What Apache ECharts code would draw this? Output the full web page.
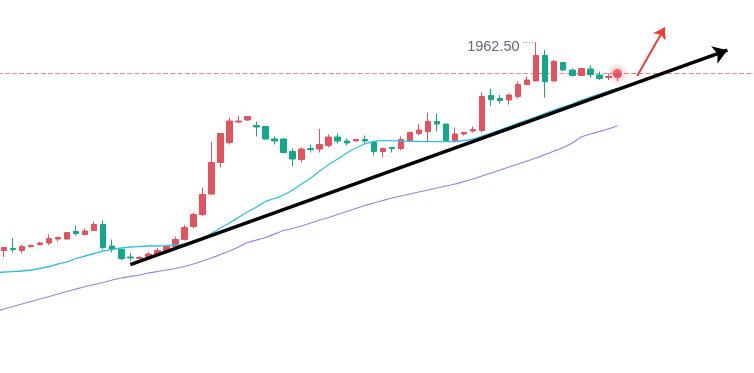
<!DOCTYPE html>
<html><head><meta charset="utf-8">
<script src="https://cdn.jsdelivr.net/npm/echarts@6/dist/echarts.min.js"></script>
<style>html,body{margin:0;padding:0;background:#fff}#c{width:754px;height:373px}</style>
</head><body><div id="c"></div>
<script>
// ---- data (prices) ----
const opens = [1858.25,1859.25,1858.25,1860.25,1861.25,1862,1864,1864,1867.75,1866.25,
  1868.25,1871.25,1860.5,1858.75,1855,1854.25,1855.25,1856.5,1858.25,1860.25,
  1863.75,1870.25,1876.25,1886.5,1902.25,1912.25,1922.5,1923.5,1920.75,1920.25,
  1914,1914,1907.75,1903.75,1909.25,1909,1910.75,1915,1913,1913,
  1913.75,1912.25,1907.75,1909.75,1909.25,1913.25,1916.75,1917.75,1922.75,1921.5,
  1913.25,1916.5,1918,1918.25,1935.75,1934.25,1933.5,1935.25,1941.25,1943,
  1955.75,1943,1952.25,1948.5,1945.75,1949,1946,1944.75,1945];
const closes = [1859.75,1858.75,1860.25,1860.75,1862,1864.25,1864.75,1867.25,1866.75,1868,
  1871.25,1859.75,1858.75,1854.25,1854.5,1854.75,1856.5,1858.25,1860.25,1863.75,
  1869.75,1876.25,1886.25,1902.25,1916.75,1923,1923,1925.25,1920,1914,
  1913,1907.25,1904,1909,1908.75,1911.25,1915,1913,1912,1913.75,
  1913,1907.75,1909.25,1909.25,1913.75,1917.25,1918.5,1922.75,1921.5,1913.25,
  1916.5,1917.25,1918.75,1935.25,1933.75,1933.25,1936,1941.25,1943.5,1955.75,
  1942.75,1952.75,1948.5,1945.75,1949.25,1946.25,1944.25,1945.25,1946.75];
const lows = [1855,1857.25,1856.75,1859.75,1860.75,1861,1862.75,1863.75,1865.75,1865.75,
  1868,1858.75,1857.25,1853.5,1853,1854,1854.75,1855.75,1857.75,1859.75,
  1863.25,1869.5,1875.5,1886,1899.75,1911.25,1922,1923,1915.25,1913.75,
  1911.25,1906.75,1900.25,1902.25,1907.25,1907.25,1909.75,1911.75,1910.75,1913,
  1911.75,1905.75,1904.75,1907.25,1908.5,1912.75,1916,1912.75,1917.75,1913.25,
  1912.25,1915.75,1917.25,1917.25,1930.5,1931.75,1931.25,1934.25,1941,1942.75,
  1934.75,1942.75,1948,1945.25,1945.5,1944.75,1943.5,1943.5,1942.75];
const highs = [1860,1864.5,1861,1861.25,1862.5,1866.25,1865.25,1867.5,1870.75,1869.25,
  1872.75,1873.25,1863.75,1859,1857,1855.5,1857.5,1859.5,1861,1865.25,
  1871,1877.25,1889.75,1912.5,1916.75,1924.75,1925.5,1925.25,1922.75,1920.25,
  1915.25,1914.25,1909.25,1909.75,1911.25,1919,1916.25,1916.75,1914.25,1913.75,
  1915.75,1913,1909.75,1909.75,1915.25,1917.75,1921.5,1927.25,1926.75,1921.5,
  1919.75,1917.25,1920.25,1937.25,1939.25,1936,1936.75,1942.75,1945.25,1962.5,
  1958.5,1953.5,1952.25,1949.25,1949.5,1950.75,1947.75,1946.75,1948.5];
// moving averages; first value belongs to the (off-screen) bar before the first candle
const maFast = [1847.1,
  1847.5,1847.75,1848,1848.5,1849.25,1850.25,1851.5,1852.6,1854.25,1855.5,
  1856.75,1858,1858.85,1859.5,1860,1860.25,1860.5,1860.5,1860.65,1861,
  1861.5,1862.5,1864.25,1866.75,1869.5,1872,1874.75,1877.5,1880,1882.75,
  1884.25,1886,1888.5,1891.5,1894.5,1898,1901.25,1904,1907,1909.5,
  1911.5,1912.75,1913.15,1913.15,1913,1912.85,1912.75,1912.65,1912.65,1912.65,
  1912.75,1913.25,1914,1915.5,1917,1918.6,1920.25,1921.9,1923.5,1925.1,
  1926.85,1928.5,1930.1,1931.5,1933.3,1934.9,1936.5,1938,1939.35];
const maSlow = [1827.75,
  1829,1830.25,1831.5,1832.75,1834,1835.25,1836.5,1837.75,1839,1840.25,
  1841.25,1842.25,1843.5,1844.5,1845.25,1846,1847,1847.75,1848.5,1849.25,
  1850.25,1851.5,1853,1854.5,1856.25,1858,1860,1862.25,1863.5,1864.75,
  1866.5,1868.25,1869.25,1870.5,1872,1873.5,1874.75,1876.25,1877.75,1879.25,
  1880.75,1882,1883.25,1884.5,1885.5,1886.5,1887.5,1888.5,1889.5,1890.5,
  1891.5,1892.75,1894,1895.5,1897,1898.5,1900,1901.5,1903,1904.5,
  1906.25,1908,1909.75,1912,1915,1916.5,1917.75,1919,1920.5];
// time slots: one off-screen bar, 69 candles, then empty space on the right
const slotCount = 85;
const categories = [];
for (let i = 0; i < slotCount; i++) categories.push(String(i));
// annotations (slot index, price)
const trendLine = [[15, 1851.2], [81.2, 1958.4]];
const signalArrow = [[71.2, 1945.5], [74.25, 1969.8]];
const highLabelPos = [55.25, 1960.1];
const highLeader = [[58.55, 1962.5], [60, 1962.5]];

// ---- chart ----
const UP = '#e2535f', DOWN = '#14a88b';
const candles = ['-'].concat(opens.map((o, i) => [o, closes[i], lows[i], highs[i]]));
const lastSlot = closes.length;          // slot of last candle
const lastClose = closes[closes.length - 1];
const maxHigh = Math.max.apply(null, highs);

const chart = echarts.init(document.getElementById('c'));
chart.setOption({
  animation: false,
  backgroundColor: '#fff',
  grid: { left: -9.53, top: 0, width: 766.7, height: 373, outerBoundsMode: 'none', containLabel: false },
  xAxis: [
    { type: 'category', data: categories, boundaryGap: true, show: false },
    { type: 'value', min: -0.5, max: slotCount - 0.5, show: false }
  ],
  yAxis: { type: 'value', min: 1797, max: 1983.5, show: false, splitLine: { show: false } },
  series: [
    {
      // last-price guide line
      type: 'line', xAxisIndex: 1, symbol: 'none', silent: true, z: 1,
      data: [[-0.5, lastClose], [slotCount - 0.5, lastClose]],
      itemStyle: { color: '#ec7f8a' },
      lineStyle: { color: '#ec7f8a', width: 1.2, type: 'dashed', dashOffset: 0 }
    },
    {
      type: 'line', data: maSlow, smooth: 0.2, symbol: 'none', silent: true,
      lineStyle: { color: '#9d80e6', width: 1.2 }
    },
    {
      type: 'line', data: maFast, smooth: 0.2, symbol: 'none', silent: true,
      lineStyle: { color: '#2fc1df', width: 1.3 }
    },
    {
      type: 'candlestick', data: candles, barWidth: 6,
      itemStyle: { color: UP, color0: DOWN, borderColor: UP, borderColor0: DOWN, borderWidth: 1 }
    },
    {
      type: 'line', xAxisIndex: 1, data: trendLine, symbol: 'none', silent: true,
      lineStyle: { width: 0, opacity: 0 },
      markLine: {
        silent: true, label: { show: false }, precision: 4,
        data: [
          [{ coord: trendLine[0], symbol: 'none', lineStyle: { color: '#000', width: 3.5, type: 'solid' } },
           { coord: trendLine[1], symbol: 'arrow', symbolSize: 14 }],
          [{ coord: signalArrow[0], symbol: 'none', lineStyle: { color: '#f23a30', width: 2, type: 'solid' } },
           { coord: signalArrow[1], symbol: 'arrow', symbolSize: 11 }],
          [{ coord: highLeader[0], symbol: 'none', lineStyle: { color: '#8e93a0', width: 1, type: [1, 2] } },
           { coord: highLeader[1], symbol: 'none' }]
        ]
      },
      markPoint: {
        silent: true,
        data: [{ coord: highLabelPos, symbol: 'circle', symbolSize: 1,
          itemStyle: { color: 'rgba(0,0,0,0)' },
          label: { show: true, position: 'inside', formatter: maxHigh.toFixed(2),
            color: '#646877', fontSize: 14.5, fontFamily: 'Liberation Sans, Arial, sans-serif' } }]
      }
    },
    {
      type: 'scatter', xAxisIndex: 1, silent: true, symbolSize: 22,
      data: [[lastSlot, lastClose]],
      itemStyle: { color: new echarts.graphic.RadialGradient(0.5, 0.5, 0.5, [
        { offset: 0, color: 'rgba(226,83,95,0.55)' },
        { offset: 1, color: 'rgba(226,83,95,0)' }]) }
    },
    {
      type: 'scatter', xAxisIndex: 1, silent: true, symbolSize: 9,
      data: [[lastSlot, lastClose]],
      itemStyle: { color: UP }
    }
  ]
});
</script>
</body></html>
